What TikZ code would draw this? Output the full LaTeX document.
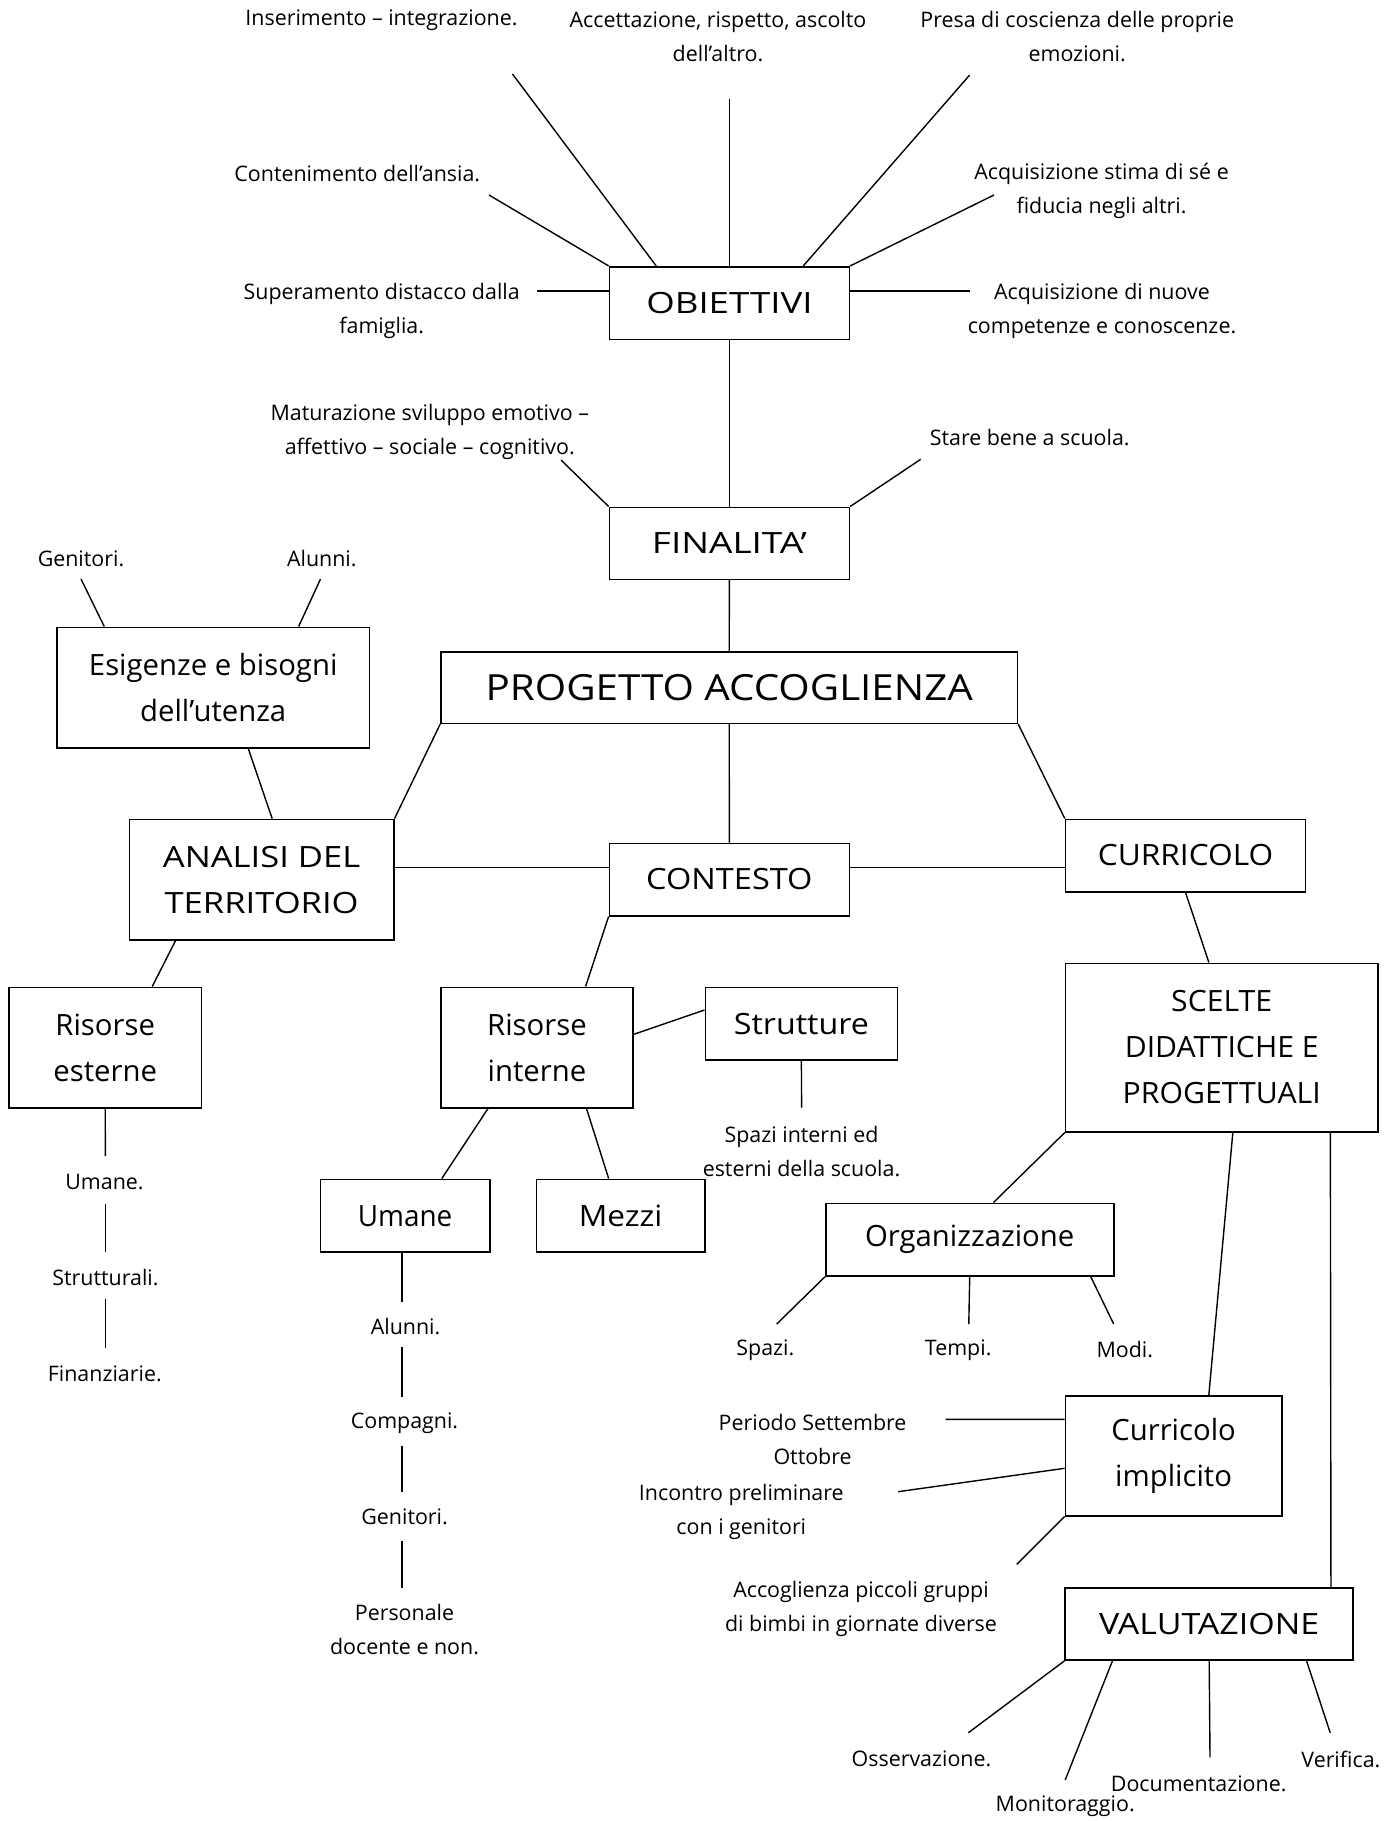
\documentclass[tikz,border=0pt]{standalone}
\usepackage{fontspec}
\setmainfont{Open Sans}
\newcommand\fsmall{\fontsize{21.4}{34}\selectfont}
\newcommand\fmed{\fontsize{29.3}{46}\selectfont}
\newcommand\fbig{\fontsize{36}{46}\selectfont}
\newcommand\fst[1]{\addfontfeature{FakeStretch=#1}}
\begin{document}
\begin{tikzpicture}[x=1pt,y=-1pt,
  box/.style={draw, line width=1.6pt, inner sep=0pt, align=center, font=\fmed},
  lab/.style={inner sep=0pt, align=center, font=\fsmall},
  ln/.style={line width=1.4pt}]
\fill[white] (0,0) rectangle (1399,1821);
\useasboundingbox (0,0) rectangle (1399,1821);
% boxes
\node[box, minimum width=240pt, minimum height=72.6pt] (obj) at (729.4,303) {\fst{1.25}OBIETTIVI};
\node[box, minimum width=240pt, minimum height=72pt] (fin) at (729.4,543.3) {\fst{1.26}FINALITA’};
\node[box, font=\fbig, minimum width=576.4pt, minimum height=71.6pt] (prog) at (729.2,687.5) {\fst{1.12}PROGETTO ACCOGLIENZA};
\node[box, minimum width=312.9pt, minimum height=120.4pt] (esig) at (213.2,687.5) {Esigenze e bisogni\\dell’utenza};
\node[box, minimum width=264.3pt, minimum height=120.7pt] (anal) at (261.6,879.7) {\fst{1.18}ANALISI DEL\\\fst{1.18}TERRITORIO};
\node[box, minimum width=240pt, minimum height=72.4pt] (cont) at (729.4,879.5) {\fst{1.11}CONTESTO};
\node[box, minimum width=239.8pt, minimum height=72.4pt] (curr) at (1185.5,855.5) {\fst{1.08}CURRICOLO};
\node[box, minimum width=192.3pt, minimum height=120.4pt] (rese) at (105.2,1047.5) {Risorse\\esterne};
\node[box, minimum width=192pt, minimum height=120.4pt] (resi) at (537,1047.5) {Risorse\\interne};
\node[box, minimum width=192.2pt, minimum height=72.7pt] (strut) at (801.4,1023.7) {\fst{1.1}Strutture};
\node[box, minimum width=312.1pt, minimum height=168.4pt] (scel) at (1221.7,1047.5) {\fst{1.03}SCELTE\\\fst{1.03}DIDATTICHE E\\\fst{1.03}PROGETTUALI};
\node[box, minimum width=169.2pt, minimum height=72.7pt] (uman) at (405.1,1215.7) {\fst{0.95}Umane};
\node[box, minimum width=168.3pt, minimum height=72.7pt] (mezz) at (620.6,1215.7) {\fst{1.08}Mezzi};
\node[box, minimum width=288pt, minimum height=72.7pt] (org) at (969.7,1239.7) {Organizzazione};
\node[box, minimum width=216.4pt, minimum height=119.7pt] (cimp) at (1173.6,1455.9) {Curricolo\\implicito};
\node[box, minimum width=287.9pt, minimum height=72.3pt] (val) at (1209.2,1623.9) {\fst{1.16}VALUTAZIONE};
% labels
\node[lab] (l1) at (381.5,20) {Inserimento – integrazione.};
\node[lab] (l2) at (718,36.7) {Accettazione, rispetto, ascolto\\dell’altro.};
\node[lab] (l3) at (1077.2,36.7) {Presa di coscienza delle proprie\\emozioni.};
\node[lab] (l4) at (357.3,174) {Contenimento dell’ansia.};
\node[lab] (l5) at (1101.5,190.5) {Acquisizione stima di sé e\\fiducia negli altri.};
\node[lab] (l6) at (381.7,310.5) {Superamento distacco dalla\\famiglia.};
\node[lab] (l7) at (1102,310.5) {Acquisizione di nuove\\competenze e conoscenze.};
\node[lab] (l8) at (429.8,431.5) {Maturazione sviluppo emotivo –\\affettivo – sociale – cognitivo.};
\node[lab] (l9) at (1029.7,438) {Stare bene a scuola.};
\node[lab] (l10) at (81,558.3) {Genitori.};
\node[lab] (l11) at (321.8,558.3) {Alunni.};
\node[lab] (e1) at (104.5,1181.7) {Umane.};
\node[lab] (e2) at (105.5,1277.7) {Strutturali.};
\node[lab] (e3) at (104.8,1374) {Finanziarie.};
\node[lab] (u1) at (405.6,1326.7) {Alunni.};
\node[lab] (u2) at (404.5,1422.7) {Compagni.};
\node[lab] (u3) at (404.6,1516.3) {Genitori.};
\node[lab] (u4) at (404.5,1630) {Personale\\docente e non.};
\node[lab] (s1) at (801.5,1151.7) {Spazi interni ed\\esterni della scuola.};
\node[lab] (o1) at (765.4,1350) {Spazi.};
\node[lab] (o2) at (958.2,1350) {Tempi.};
\node[lab] (o3) at (1124.8,1350) {Modi.};
\node[lab] (c1) at (812.6,1439.3) {Periodo Settembre\\Ottobre};
\node[lab] (c2) at (741.3,1511.7) {Incontro preliminare\\con i genitori};
\node[lab] (c3) at (861,1609.3) {Accoglienza piccoli gruppi\\di bimbi in giornate diverse};
\node[lab] (v1) at (921.5,1759) {Osservazione.};
\node[lab] (v2) at (1065.2,1806) {Monitoraggio.};
\node[lab] (v3) at (1198.7,1783.3) {Documentazione.};
\node[lab] (v4) at (1340.9,1759) {Verifica.};
% free ends
\coordinate (p1) at (512.5,74);
\coordinate (p2) at (489,195);
\coordinate (p3) at (537,291);
\coordinate (p4) at (729.4,99);
\coordinate (p5) at (969.7,75);
\coordinate (p6) at (994,195);
\coordinate (p7) at (969.7,291);
\coordinate (p8) at (561,460);
\coordinate (p9) at (920.7,459.3);
\coordinate (g1) at (81,579);
\coordinate (g2) at (320.5,579);
\coordinate (ps) at (801.6,1107.7);
\coordinate (q1) at (776.7,1324);
\coordinate (q2) at (968.8,1324);
\coordinate (q3) at (1113.7,1324);
\coordinate (r1) at (945.5,1419.3);
\coordinate (r2) at (898,1491.7);
\coordinate (r3) at (1016.8,1564.3);
\coordinate (w1) at (968.4,1732.7);
\coordinate (w2) at (1065.2,1780);
\coordinate (w3) at (1210,1757.3);
\coordinate (w4) at (1330.2,1732.7);
\coordinate (ea1) at (105.4,1156);
\coordinate (ea2) at (105.4,1204);
\coordinate (ea3) at (105.4,1252.3);
\coordinate (ea4) at (105.4,1299.3);
\coordinate (ea5) at (105.4,1348.3);
\coordinate (ua1) at (401.8,1301.7);
\coordinate (ua2) at (401.8,1347.3);
\coordinate (ua3) at (401.8,1396.7);
\coordinate (ua4) at (401.8,1445.5);
\coordinate (ua5) at (401.8,1492);
\coordinate (ua6) at (401.8,1540.7);
\coordinate (ua7) at (401.8,1588.3);
% connectors
\draw[ln] ([xshift=47.6pt]obj.north west) -- (p1);
\draw[ln] (obj.north west) -- (p2);
\draw[ln] ([yshift=12pt]obj.west) -- (p3);
\draw[ln] (obj.north) -- (p4);
\draw[ln] ([xshift=-46.9pt]obj.north east) -- (p5);
\draw[ln] (obj.north east) -- (p6);
\draw[ln] ([yshift=12pt]obj.east) -- (p7);
\draw[ln] (obj.south) -- (fin.north);
\draw[ln] (fin.north west) -- (p8);
\draw[ln] (fin.north east) -- (p9);
\draw[ln] (fin.south) -- (prog.north);
\draw[ln] ([xshift=48.3pt]esig.north west) -- (g1);
\draw[ln] ([xshift=-71.8pt]esig.north east) -- (g2);
\draw[ln] ([xshift=192.3pt]esig.south west) -- ([xshift=143.5pt]anal.north west);
\draw[ln] (anal.north east) -- (prog.south west);
\draw[ln] ([yshift=12pt]anal.east) -- ([yshift=11.8pt]cont.west);
\draw[ln] ([xshift=46.8pt]anal.south west) -- ([xshift=144pt]rese.north west);
\draw[ln] (prog.south) -- (cont.north);
\draw[ln] (prog.south east) -- (curr.north west);
\draw[ln] ([yshift=-12.2pt]curr.west) -- ([yshift=11.8pt]cont.east);
\draw[ln] (cont.south west) -- ([xshift=-48.2pt]resi.north east);
\draw[ln] ([yshift=13.2pt]resi.east) -- ([yshift=13.7pt]strut.west);
\draw[ln] ([xshift=47.8pt]resi.south west) -- ([xshift=-48.7pt]uman.north east);
\draw[ln] ([xshift=-47.3pt]resi.south east) -- ([xshift=73pt]mezz.north west);
\draw[ln] (strut.south) -- (ps);
\draw[ln] (curr.south) -- ([xshift=144pt]scel.north west);
\draw[ln] (scel.south west) -- ([xshift=168.5pt]org.north west);
\draw[ln] ([xshift=168pt]scel.south west) -- ([xshift=144.2pt]cimp.north west);
\draw[ln] ([xshift=-48.2pt]scel.south east) -- ([xshift=-23pt]val.north east);
\draw[ln] (org.south west) -- (q1);
\draw[ln] (org.south) -- (q2);
\draw[ln] ([xshift=-23.7pt]org.south east) -- (q3);
\draw[ln] ([yshift=36.6pt]cimp.west) -- (r1);
\draw[ln] ([yshift=-12.4pt]cimp.west) -- (r2);
\draw[ln] (cimp.south west) -- (r3);
\draw[ln] (val.south west) -- (w1);
\draw[ln] ([xshift=48pt]val.south west) -- (w2);
\draw[ln] (val.south) -- (w3);
\draw[ln] ([xshift=-47.4pt]val.south east) -- (w4);
\draw[ln] (rese.south) -- (ea1);
\draw[ln] (ea2) -- (ea3);
\draw[ln] (ea4) -- (ea5);
\draw[ln] ([xshift=-3.3pt]uman.south) -- (ua1);
\draw[ln] (ua2) -- (ua3);
\draw[ln] (ua4) -- (ua5);
\draw[ln] (ua6) -- (ua7);
\end{tikzpicture}
\end{document}
